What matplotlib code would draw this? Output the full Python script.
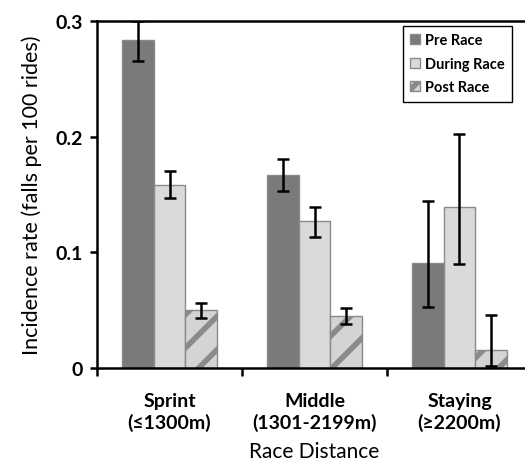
import numpy as np
import matplotlib as mpl
import matplotlib.pyplot as plt

mpl.rcParams['font.family'] = ['Lato', 'DejaVu Sans']
mpl.rcParams['hatch.linewidth'] = 4
mpl.rcParams['hatch.color'] = '#626262'

categories = ['Sprint\n(\u22641300m)', 'Middle\n(1301-2199m)', 'Staying\n(\u22652200m)']
series = ['Pre Race', 'During Race', 'Post Race']
values = {
    'Pre Race': [0.284, 0.167, 0.091],
    'During Race': [0.158, 0.127, 0.139],
    'Post Race': [0.050, 0.045, 0.016],
}
err_low = {
    'Pre Race': [0.265, 0.153, 0.053],
    'During Race': [0.147, 0.113, 0.090],
    'Post Race': [0.043, 0.038, 0.002],
}
err_high = {
    'Pre Race': [0.300, 0.181, 0.144],
    'During Race': [0.170, 0.139, 0.202],
    'Post Race': [0.056, 0.052, 0.046],
}
colors = ['#7a7a7a', '#dadada', '#d4d4d4']
hatches = [None, None, '/']

fig = plt.figure(figsize=(5.25, 4.64), dpi=100)
ax = fig.add_axes([0.1848, 0.2047, 0.8285, 0.7479])

x = np.arange(len(categories))
width = 0.22
for i, s in enumerate(series):
    pos = x + (i - 1) * width
    v = np.array(values[s])
    lo = v - np.array(err_low[s])
    hi = np.array(err_high[s]) - v
    ax.bar(pos, v, width, color=colors[i], edgecolor='#8a8a8a', linewidth=1,
           hatch=hatches[i], label=s, zorder=2)
    ax.errorbar(pos, v, yerr=[lo, hi], fmt='none', ecolor='black',
                elinewidth=1.8, capsize=4, capthick=1.8, zorder=3)

ax.set_xlim(-0.5, 2.5)
ax.set_ylim(0, 0.3)
ax.set_yticks([0, 0.1, 0.2, 0.3])
ax.set_yticklabels(['0', '0.1', '0.2', '0.3'], fontsize=14, fontweight='bold')
ax.set_xticks(x)
ax.set_xticklabels(categories, fontsize=14, fontweight='bold', linespacing=1.3)
ax.tick_params(axis='x', which='major', length=0, pad=17)
ax.set_xticks([-0.5, 0.5, 1.5, 2.5], minor=True)
ax.tick_params(axis='x', which='minor', length=6, width=1.8, direction='out')
ax.tick_params(axis='y', length=5, width=1.8, direction='out', pad=5)
for sp in ['left', 'bottom', 'top']:
    ax.spines[sp].set_linewidth(1.8)
ax.spines['right'].set_visible(False)

ax.set_xlabel('Race Distance', fontsize=15, labelpad=7)
ax.set_ylabel('Incidence rate (falls per 100 rides)', fontsize=15.5, labelpad=10)

leg = ax.legend(loc='upper left', bbox_to_anchor=(0.703, 0.985),
                prop={'size': 10.5, 'weight': 'bold'},
                fancybox=False, edgecolor='black', framealpha=1, handlelength=0.7,
                handleheight=0.7, handletextpad=0.3, labelspacing=0.65, borderpad=0.5,
                borderaxespad=0)
leg.get_frame().set_linewidth(1)

fig.savefig('out.png', dpi=100)
